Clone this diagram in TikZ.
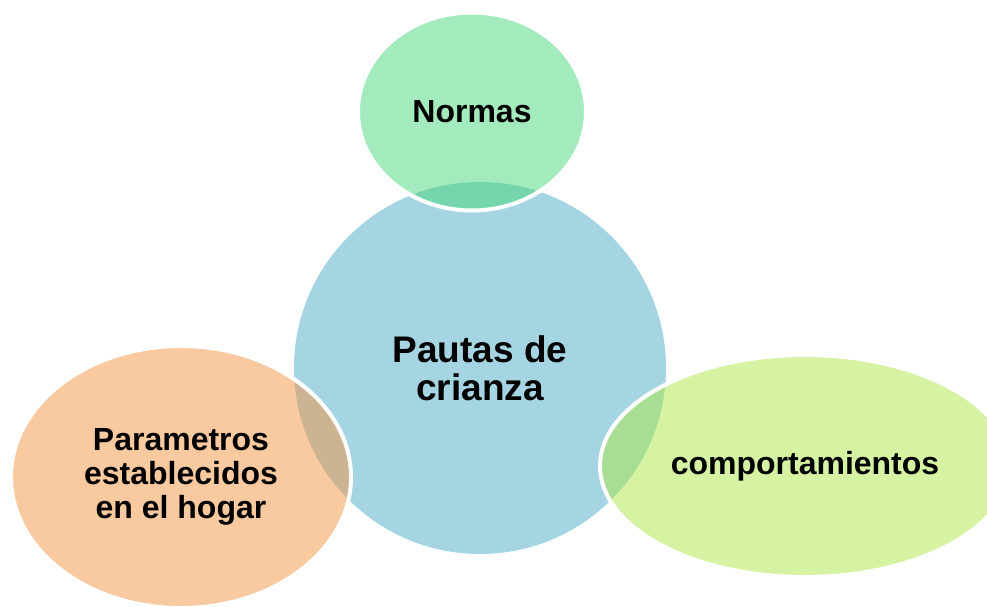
\documentclass[tikz,border=0pt]{standalone}
\usepackage{fontspec}
\setmainfont{Liberation Sans}
\usetikzlibrary{shapes.geometric}
\definecolor{cblue}{RGB}{165,213,226}
\definecolor{cgreen}{RGB}{71,215,121}
\definecolor{corange}{RGB}{243,147,65}
\definecolor{clime}{RGB}{171,231,69}
\begin{document}
\begin{tikzpicture}[x=1pt,y=-1pt]
\tikzset{
  bubble/.style={ellipse, draw=white, line width=4pt, fill opacity=0.5,
    text opacity=1, inner sep=0pt, align=center,
    font=\fontsize{32}{34}\selectfont\bfseries},
  core/.style={circle, fill=cblue, draw=none, inner sep=0pt, align=center,
    minimum size=372pt, font=\fontsize{37}{38}\selectfont\bfseries}
}
\useasboundingbox (0,0) rectangle (987,606);
\clip (0,0) rectangle (987,606);
\node[core] (center) at (480,368) {Pautas de\\crianza};
\node[bubble, fill=cgreen, minimum width=228pt, minimum height=198pt] (normas) at (472,111.5) {Normas};
\node[bubble, fill=corange, minimum width=340pt, minimum height=262pt] (param) at (181,477) {Parametros\\establecidos\\en el hogar};
\node[bubble, fill=clime, minimum width=410pt, minimum height=222pt] (comp) at (805,466) {comportamientos};
\end{tikzpicture}
\end{document}
